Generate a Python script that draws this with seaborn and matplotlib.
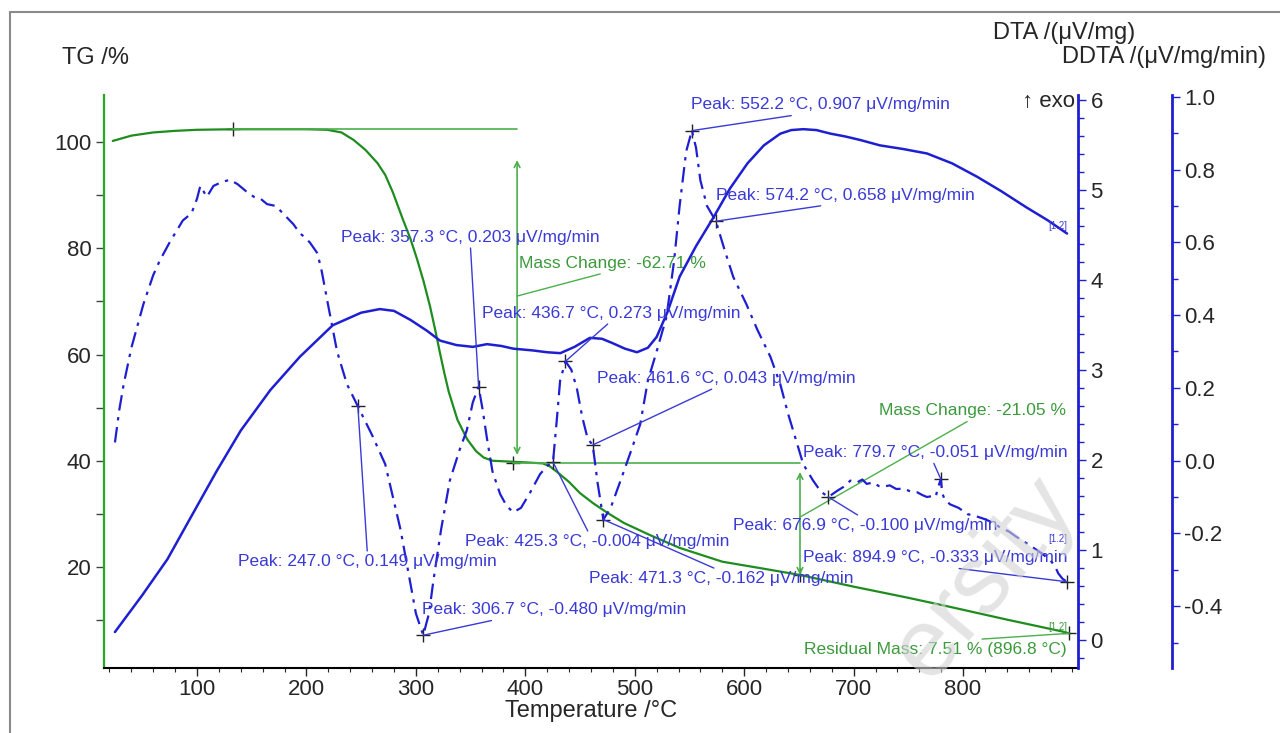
import matplotlib
matplotlib.use('Agg')
import matplotlib.pyplot as plt
from matplotlib.ticker import MultipleLocator, FixedLocator, FormatStrFormatter
from matplotlib.lines import Line2D
import seaborn as sns

# TG curve (mass %)
tg_temp = [23, 40, 60, 80, 100, 133, 170, 200, 219, 232, 243, 254, 265, 272, 279, 288, 295, 301,
           307, 313, 318, 322, 326, 330, 338, 347, 355, 362, 370, 380, 389, 400, 416, 422, 429,
           440, 450, 462, 475, 490, 514, 541, 580, 620, 651, 700, 750, 788, 840, 892, 896.8]
tg_mass = [100.2, 101.2, 101.8, 102.1, 102.3, 102.4, 102.4, 102.4, 102.3, 101.8, 100.4, 98.5, 96.0,
           93.8, 90.5, 85.5, 81.8, 78.0, 73.8, 69.0, 64.3, 60.3, 56.5, 53.0, 47.7, 44.0, 41.8, 40.6,
           40.0, 39.9, 39.8, 39.7, 39.5, 39.0, 37.9, 36.0, 33.9, 32.0, 30.2, 28.3, 26.0, 23.6, 21.0,
           19.6, 18.5, 16.3, 14.2, 12.5, 10.1, 7.8, 7.51]

# DTA curve (uV/mg)
dta_temp = [25, 50, 73, 95, 118, 140, 167, 194, 224, 250, 267, 280, 295, 310, 322, 337, 352, 365,
            378, 389, 407, 420, 432, 445, 459, 470, 480, 491, 502, 512, 520, 530, 541, 556, 572,
            587, 603, 618, 633, 643, 654, 666, 679, 692, 706, 724, 745, 767, 790, 813, 835, 858,
            877, 895]
dta_val = [0.09, 0.5, 0.9, 1.38, 1.88, 2.33, 2.78, 3.15, 3.5, 3.64, 3.68, 3.66, 3.56, 3.44, 3.33,
           3.28, 3.26, 3.29, 3.27, 3.24, 3.22, 3.20, 3.19, 3.26, 3.36, 3.35, 3.30, 3.24, 3.20, 3.25,
           3.37, 3.65, 4.04, 4.38, 4.70, 5.02, 5.30, 5.50, 5.63, 5.67, 5.68, 5.67, 5.63, 5.60, 5.56,
           5.50, 5.46, 5.41, 5.30, 5.15, 4.99, 4.81, 4.67, 4.52]

# DDTA curve (uV/mg/min)
ddta_temp = [25, 29, 33, 40, 51, 60, 66, 75, 87, 95, 100, 103, 109, 115, 122, 130, 137, 145, 152,
             158, 164, 172, 180, 188, 194, 198, 203, 210, 214, 219, 228, 237, 247, 260, 272, 286,
             300, 306.7, 312, 316, 323, 331, 340, 346.5, 352, 357.3, 361, 365, 370, 377, 383, 389,
             396, 404, 413.5, 420, 425.3, 429, 431.8, 436.7, 442, 447, 452, 457, 461.6, 466, 471.3,
             478, 487, 497, 505, 512, 520, 529, 536, 541, 547, 552.2, 556, 560, 566, 574.2, 582,
             590, 602, 612, 624, 633, 640, 646, 654, 663, 670, 676.9, 685, 692, 697, 703, 708, 712,
             718, 723, 727, 733, 739, 746, 752, 758, 763, 767, 771, 775, 777, 779.7, 781, 783, 788,
             796, 804, 811, 819, 827, 834, 842, 849, 857, 864, 872, 880, 884, 887, 891, 894.9, 897]
ddta_val = [0.05, 0.14, 0.21, 0.31, 0.43, 0.51, 0.55, 0.60, 0.66, 0.68, 0.72, 0.755, 0.725, 0.755,
            0.765, 0.772, 0.76, 0.74, 0.725, 0.72, 0.705, 0.70, 0.675, 0.65, 0.625, 0.615, 0.60,
            0.57, 0.52, 0.44, 0.30, 0.21, 0.149, 0.07, -0.01, -0.19, -0.42, -0.48, -0.42, -0.33,
            -0.19, -0.055, 0.03, 0.083, 0.16, 0.203, 0.14, 0.06, -0.03, -0.092, -0.125, -0.142,
            -0.13, -0.09, -0.037, -0.015, -0.004, 0.12, 0.22, 0.273, 0.25, 0.20, 0.12, 0.06, 0.043,
            -0.06, -0.162, -0.13, -0.055, 0.03, 0.10, 0.22, 0.30, 0.395, 0.55, 0.70, 0.85, 0.907,
            0.86, 0.77, 0.70, 0.658, 0.58, 0.505, 0.43, 0.36, 0.285, 0.21, 0.13, 0.07, -0.01,
            -0.055, -0.085, -0.100, -0.083, -0.07, -0.055, -0.06, -0.052, -0.064, -0.06, -0.07,
            -0.072, -0.068, -0.078, -0.077, -0.085, -0.087, -0.095, -0.1, -0.098, -0.1, -0.075,
            -0.051, -0.09, -0.105, -0.12, -0.13, -0.147, -0.152, -0.16, -0.17, -0.184, -0.195,
            -0.21, -0.225, -0.239, -0.255, -0.275, -0.29, -0.31, -0.325, -0.333, -0.33]

# DDTA peaks
peak_temp = [552.2, 574.2, 357.3, 436.7, 461.6, 247.0, 306.7, 425.3, 471.3, 676.9, 779.7, 894.9]
peak_val = [0.907, 0.658, 0.203, 0.273, 0.043, 0.149, -0.480, -0.004, -0.162, -0.100, -0.051, -0.333]
# label placement: (x, y, ha, relpos of leader line)
peak_text_pos = [(551.6, 0.978, 'left', (0.47, 0)), (574.4, 0.730, 'left', (0.49, 0)),
                 (231.6, 0.614, 'left', (0.5, 0)), (360.5, 0.405, 'left', (0.5, 0)),
                 (465.6, 0.226, 'left', (0.47, 0)), (137.5, -0.278, 'left', (0.5, 1)),
                 (305.7, -0.410, 'left', (0.32, 0)), (345.0, -0.223, 'left', (0.47, 1)),
                 (458.3, -0.325, 'left', (0.5, 1)), (590.0, -0.179, 'left', (0.49, 1)),
                 (895.3, 0.022, 'right', (0.49, 0)), (895.3, -0.267, 'right', (0.49, 0))]

# TG evaluation
step_temp = [133, 389, 651]
step_level = [102.4, 39.6, 18.5]
mass_change = [-62.71, -21.05]
arrow_temp = [392.5, 651]
residual_temp = 896.8
residual_mass = 7.51

x_ticks = [100, 200, 300, 400, 500, 600, 700, 800]

GREEN = '#1e8c1e'
GREEN_L = '#4caf4c'
GREEN_T = '#3c9a3c'
BLUE = '#1f1fd2'
BLUE_T = '#3a3ad6'

sns.set_style('ticks')
plt.rcParams['font.family'] = ['Liberation Sans', 'DejaVu Sans']
plt.rcParams['axes.unicode_minus'] = False

fig = plt.figure(figsize=(12.8, 7.33), dpi=100)
ax = fig.add_axes([0.08125, 0.0887, 0.7609, 0.7817])
ax2 = ax.twinx()
ax3 = ax.twinx()

# curves
sns.lineplot(x=tg_temp, y=tg_mass, ax=ax, color=GREEN, lw=1.6)
sns.lineplot(x=dta_temp, y=dta_val, ax=ax2, color=BLUE, lw=1.8)
sns.lineplot(x=ddta_temp, y=ddta_val, ax=ax3, color=BLUE, lw=1.6, linestyle=(0, (7, 3, 1.5, 3)))

# TG evaluation lines
ax.plot([step_temp[0], arrow_temp[0]], [step_level[0]] * 2, color=GREEN_L, lw=1.2)
ax.plot([step_temp[1], arrow_temp[1]], [step_level[1]] * 2, color=GREEN_L, lw=1.2)
ax.annotate('', xy=(arrow_temp[0], step_level[0] - 5.8), xytext=(arrow_temp[0], step_level[1] + 1.5),
            arrowprops=dict(arrowstyle='<->', color=GREEN_L, lw=1.2, shrinkA=0, shrinkB=0))
ax.annotate('', xy=(arrow_temp[1], step_level[1] - 1.7), xytext=(arrow_temp[1], step_level[2]),
            arrowprops=dict(arrowstyle='<->', color=GREEN_L, lw=1.2, shrinkA=0, shrinkB=0))
sns.scatterplot(x=step_temp + [residual_temp], y=step_level + [residual_mass], ax=ax,
                marker='+', s=110, color='#222222', linewidth=1)

ax.annotate(f'Mass Change: {mass_change[0]:.2f} %', xy=(arrow_temp[0], 71), xytext=(394.3, 77.2),
            ha='left', va='center', fontsize=12.5, color=GREEN_T,
            arrowprops=dict(arrowstyle='-', color=GREEN_L, lw=1, relpos=(0.5, 0), shrinkA=0, shrinkB=0))
ax.annotate(f'Mass Change: {mass_change[1]:.2f} %', xy=(arrow_temp[1], 29.4), xytext=(894.4, 49.4),
            ha='right', va='center', fontsize=12.5, color=GREEN_T,
            arrowprops=dict(arrowstyle='-', color=GREEN_L, lw=1, relpos=(0.5, 0), shrinkA=0, shrinkB=0))
ax.annotate(f'Residual Mass: {residual_mass:.2f} % ({residual_temp:.1f} °C)',
            xy=(residual_temp, residual_mass), xytext=(894.4, 4.4),
            ha='right', va='center', fontsize=12.5, color=GREEN_T,
            arrowprops=dict(arrowstyle='-', color=GREEN_L, lw=1, relpos=(0.49, 1), shrinkA=0, shrinkB=0))

# DDTA peak labels
sns.scatterplot(x=peak_temp, y=peak_val, ax=ax3, marker='+', s=110, color='#222222', linewidth=1)
for t, v, (tx, ty, ha, rp) in zip(peak_temp, peak_val, peak_text_pos):
    ax3.annotate(f'Peak: {t:.1f} °C, {v:.3f} μV/mg/min', xy=(t, v), xytext=(tx, ty),
                 ha=ha, va='center', fontsize=12.5, color=BLUE_T,
                 arrowprops=dict(arrowstyle='-', color=BLUE_T, lw=1, relpos=rp, shrinkA=0, shrinkB=0))

# curve tags
ax2.text(895, 4.6, '[1.2]', fontsize=7, color=BLUE_T, ha='right', va='center')
ax3.text(895, -0.215, '[1.2]', fontsize=7, color=BLUE_T, ha='right', va='center')
ax.text(895, 8.7, '[1.2]', fontsize=7, color=GREEN_T, ha='right', va='center')

# axes
ax.set_xlim(15, 905)
ax.set_ylim(0.99, 108.85)
ax2.set_ylim(-0.31, 6.06)
ax3.set_ylim(-0.57, 1.005)

ax.xaxis.set_major_locator(FixedLocator(x_ticks))
ax.xaxis.set_minor_locator(MultipleLocator(20))
ax.yaxis.set_minor_locator(MultipleLocator(10))
ax.set_yticks([20, 40, 60, 80, 100])
ax2.yaxis.set_major_locator(MultipleLocator(1))
ax2.yaxis.set_minor_locator(MultipleLocator(0.2))
ax3.yaxis.set_major_locator(MultipleLocator(0.2))
ax3.yaxis.set_minor_locator(MultipleLocator(0.1))
ax3.yaxis.set_major_formatter(FormatStrFormatter('%.1f'))

ax.tick_params(axis='x', which='major', length=6, width=1, labelsize=16, direction='out', pad=2)
ax.tick_params(axis='x', which='minor', length=3, width=0.8, direction='out')
ax.tick_params(axis='y', which='major', length=6, width=1, labelsize=16, color='#444444', pad=3)
ax.tick_params(axis='y', which='minor', length=6, width=1, color='#444444')
for a in (ax2, ax3):
    a.tick_params(axis='y', which='major', length=6, width=1, labelsize=16, color=BLUE, pad=3)
    a.tick_params(axis='y', which='minor', length=4, width=1, color=BLUE)

ax.set_xlabel('Temperature /°C', fontsize=17, labelpad=0)
ax.set_ylabel('')
ax2.set_ylabel('')
ax3.set_ylabel('')

ax.spines['top'].set_visible(False)
ax.spines['right'].set_visible(False)
ax.spines['left'].set_color('#22aa22')
ax.spines['left'].set_linewidth(1.6)
ax.spines['bottom'].set_color('black')
ax.spines['bottom'].set_linewidth(1.5)
for a in (ax2, ax3):
    for s in ('top', 'bottom', 'left'):
        a.spines[s].set_visible(False)
    a.spines['right'].set_color(BLUE)
    a.spines['right'].set_linewidth(2)
ax3.spines['right'].set_position(('axes', 1.0965))

# headers
fig.text(62 / 1280, 1 - 58 / 733, 'TG /%', fontsize=17, va='center', ha='left')
fig.text(993 / 1280, 1 - 33 / 733, 'DTA /(μV/mg)', fontsize=17, va='center', ha='left')
fig.text(1062 / 1280, 1 - 57 / 733, 'DDTA /(μV/mg/min)', fontsize=17, va='center', ha='left')
fig.text(1075 / 1280, 1 - 101 / 733, '↑ exo', fontsize=16, va='center', ha='right')

# frame and watermark
fig.add_artist(Line2D([10 / 1280, 1], [1 - 12 / 733] * 2, color='#8a8a8a', lw=1.5))
fig.add_artist(Line2D([10 / 1280] * 2, [0, 1 - 12 / 733], color='#8a8a8a', lw=1.5))
fig.text(985 / 1280, 1 - 578 / 733, 'ersity', fontsize=70, rotation=50, color='#d2d2d2',
         alpha=0.6, ha='center', va='center')

fig.savefig('out.png', dpi=100)
